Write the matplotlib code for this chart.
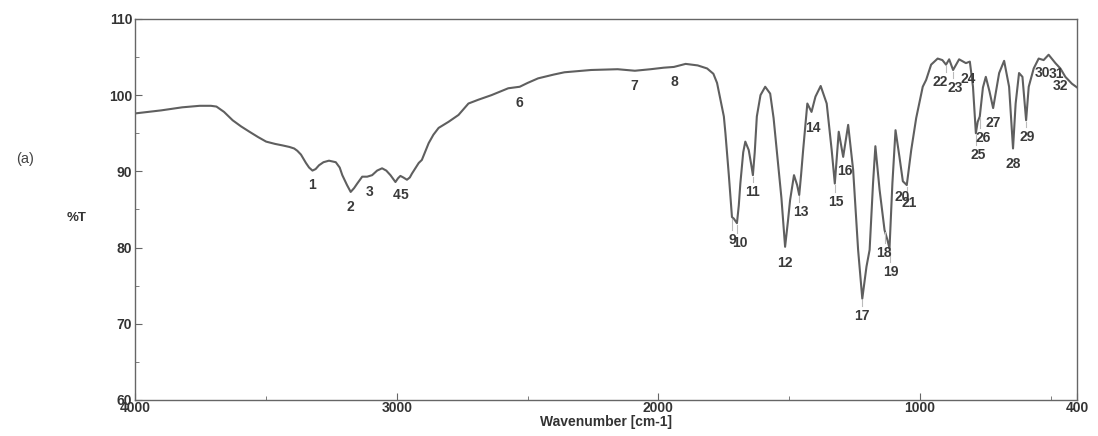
import numpy as np
import matplotlib
matplotlib.use('Agg')
import matplotlib.pyplot as plt
from matplotlib.ticker import MultipleLocator

# spectrum (wavenumber cm-1, %T)
wavenumber = [4000, 3900, 3820, 3753, 3710, 3689, 3660, 3627, 3595, 3563, 3530,
              3499, 3465, 3436, 3410, 3392, 3380, 3366, 3347, 3335, 3322, 3310, 3297,
              3280, 3259, 3233, 3218, 3208, 3190, 3176, 3163, 3151, 3132,
              3113, 3094, 3075, 3056, 3040, 3024, 3005, 2995, 2986, 2975,
              2961, 2950, 2942, 2916, 2904, 2878, 2860, 2840, 2802, 2764,
              2726, 2688, 2638, 2574, 2530, 2500, 2460, 2400, 2359, 2257,
              2156, 2090, 2030, 1980, 1941, 1896, 1850, 1814, 1790, 1776,
              1763, 1750, 1744, 1731, 1719, 1712, 1700, 1693, 1687, 1676,
              1668, 1655, 1645, 1639, 1632, 1624, 1610, 1592, 1573, 1560,
              1548, 1530, 1516, 1505, 1497, 1482, 1470, 1462, 1455, 1447,
              1431, 1415, 1400, 1380, 1357, 1338, 1326, 1318, 1311, 1294,
              1275, 1256, 1237, 1221, 1205, 1193, 1180, 1171, 1155, 1136,
              1125, 1117, 1106, 1094, 1079, 1066, 1051, 1034, 1015, 990,
              977, 958, 933, 915, 901, 889, 874, 851, 825, 810,
              798, 787, 780, 772, 760, 749, 735, 721, 698, 679,
              660, 645, 635, 622, 609, 595, 585, 566, 547, 528,
              509, 483, 464, 445, 420, 400]
transmittance = [97.6, 98.0, 98.4, 98.6, 98.6, 98.5, 97.8, 96.7, 95.9, 95.2, 94.5,
                 93.9, 93.6, 93.4, 93.2, 93.0, 92.7, 92.2, 91.1, 90.5, 90.1, 90.3, 90.8,
                 91.2, 91.4, 91.2, 90.5, 89.5, 88.2, 87.3, 87.8, 88.4, 89.3,
                 89.3, 89.5, 90.1, 90.4, 90.1, 89.5, 88.6, 89.1, 89.4, 89.2,
                 88.9, 89.2, 89.7, 91.1, 91.5, 93.7, 94.8, 95.7, 96.5, 97.4,
                 98.9, 99.4, 100.0, 100.9, 101.1, 101.6, 102.2, 102.7, 103.0, 103.3,
                 103.4, 103.2, 103.4, 103.6, 103.7, 104.1, 103.9, 103.5, 102.8, 101.6,
                 99.4, 97.2, 95.0, 89.5, 84.0, 83.8, 83.2, 85.5, 88.4, 92.5,
                 93.9, 92.8, 90.8, 89.5, 92.5, 97.2, 100.0, 101.1, 100.2, 97.0,
                 92.8, 86.5, 80.1, 83.5, 86.2, 89.5, 88.2, 86.9, 89.5, 92.8,
                 98.9, 97.8, 99.8, 101.2, 98.9, 92.8, 88.4, 92.0, 95.2, 91.9,
                 96.1, 90.2, 79.7, 73.3, 77.5, 79.7, 88.4, 93.3, 87.6, 82.3,
                 81.0, 79.9, 88.4, 95.4, 91.9, 88.7, 88.2, 92.8, 97.0, 101.1,
                 102.0, 104.0, 104.8, 104.6, 104.0, 104.7, 103.3, 104.7, 104.2, 104.4,
                 101.1, 95.0, 96.5, 97.2, 101.0, 102.4, 100.5, 98.3, 102.9, 104.5,
                 101.1, 93.0, 98.9, 102.9, 102.4, 96.7, 101.1, 103.5, 104.8, 104.6,
                 105.3, 104.2, 103.5, 102.4, 101.5, 101.0]

# numbered peaks
peak_ids = ['1', '2', '3', '4', '5', '6', '7', '8', '9', '10', '11', '12', '13', '14', '15', '16',
            '17', '18', '19', '20', '21', '22', '23', '24', '25', '26', '27', '28', '29', '30', '31', '32']
peak_wn = [3322, 3176, 3113, 3005, 2961, 2530, 2090, 1941, 1719, 1700, 1639, 1516, 1462, 1415, 1326, 1294,
           1221, 1136, 1117, 1066, 1051, 901, 874, 825, 787, 772, 721, 645, 595, 528, 483, 464]
# where the numbers sit (wavenumber, %T)
label_x = [3323, 3176, 3105, 2999, 2970, 2530, 2091, 1939, 1718, 1690, 1639, 1516, 1456, 1408, 1323, 1289,
           1221, 1137, 1110, 1070, 1040, 922, 866, 815, 779, 760, 719, 646, 589, 532, 478, 463]
label_y = [88.2, 85.3, 87.3, 86.9, 86.9, 99.0, 101.2, 101.7, 81.0, 80.6, 87.3, 78.0, 84.7, 95.7, 86.0, 90.1,
           71.0, 79.3, 76.8, 86.6, 85.8, 101.7, 100.9, 102.1, 92.2, 94.4, 96.4, 91.0, 94.5, 102.9, 102.8, 101.2]

plt.rcParams['font.family'] = ['Liberation Sans', 'DejaVu Sans']

fig = plt.figure(figsize=(10.98, 4.36), dpi=100)
ax = fig.add_axes([0.123, 0.0826, 0.858, 0.874])

ax.plot(wavenumber, transmittance, color='#5f5f5f', lw=1.5)

# little marker lines from each dip down to its number
peak_t = np.interp(peak_wn, wavenumber[::-1], transmittance[::-1])
for w, t, ly in zip(peak_wn, peak_t, label_y):
    if t - ly > 2.2:
        ax.plot([w, w], [ly + 1.3, t - 0.2], color='#bbbbbb', lw=0.8)
for s, x, y in zip(peak_ids, label_x, label_y):
    ax.text(x, y, s, ha='center', va='center', fontsize=10, fontweight='bold', color='#3a3a3a')

ax.set_xlim(4000, 400)
ax.set_ylim(60, 110)
ax.set_xticks([4000, 3000, 2000, 1000, 400])
ax.xaxis.set_minor_locator(MultipleLocator(500))
ax.yaxis.set_major_locator(MultipleLocator(10))
ax.yaxis.set_minor_locator(MultipleLocator(5))
ax.tick_params(which='both', direction='in', color='#666666', labelsize=10, pad=2)
ax.tick_params(axis='x', pad=1)
ax.tick_params(which='major', length=5)
ax.tick_params(which='minor', length=3)
for lab in ax.get_xticklabels() + ax.get_yticklabels():
    lab.set_fontweight('bold')
    lab.set_color('#333333')
for sp in ax.spines.values():
    sp.set_color('#666666')
    sp.set_linewidth(1.0)

ax.set_xlabel('Wavenumber [cm-1]', fontsize=10, fontweight='bold', color='#333333', labelpad=0)
fig.text(0.07, 0.50, '%T', fontsize=9.5, fontweight='bold', color='#333333', ha='center', va='center')
fig.text(0.023, 0.635, '(a)', fontsize=10.5, color='#444444', ha='center', va='center')

fig.savefig('out.png', dpi=100)
